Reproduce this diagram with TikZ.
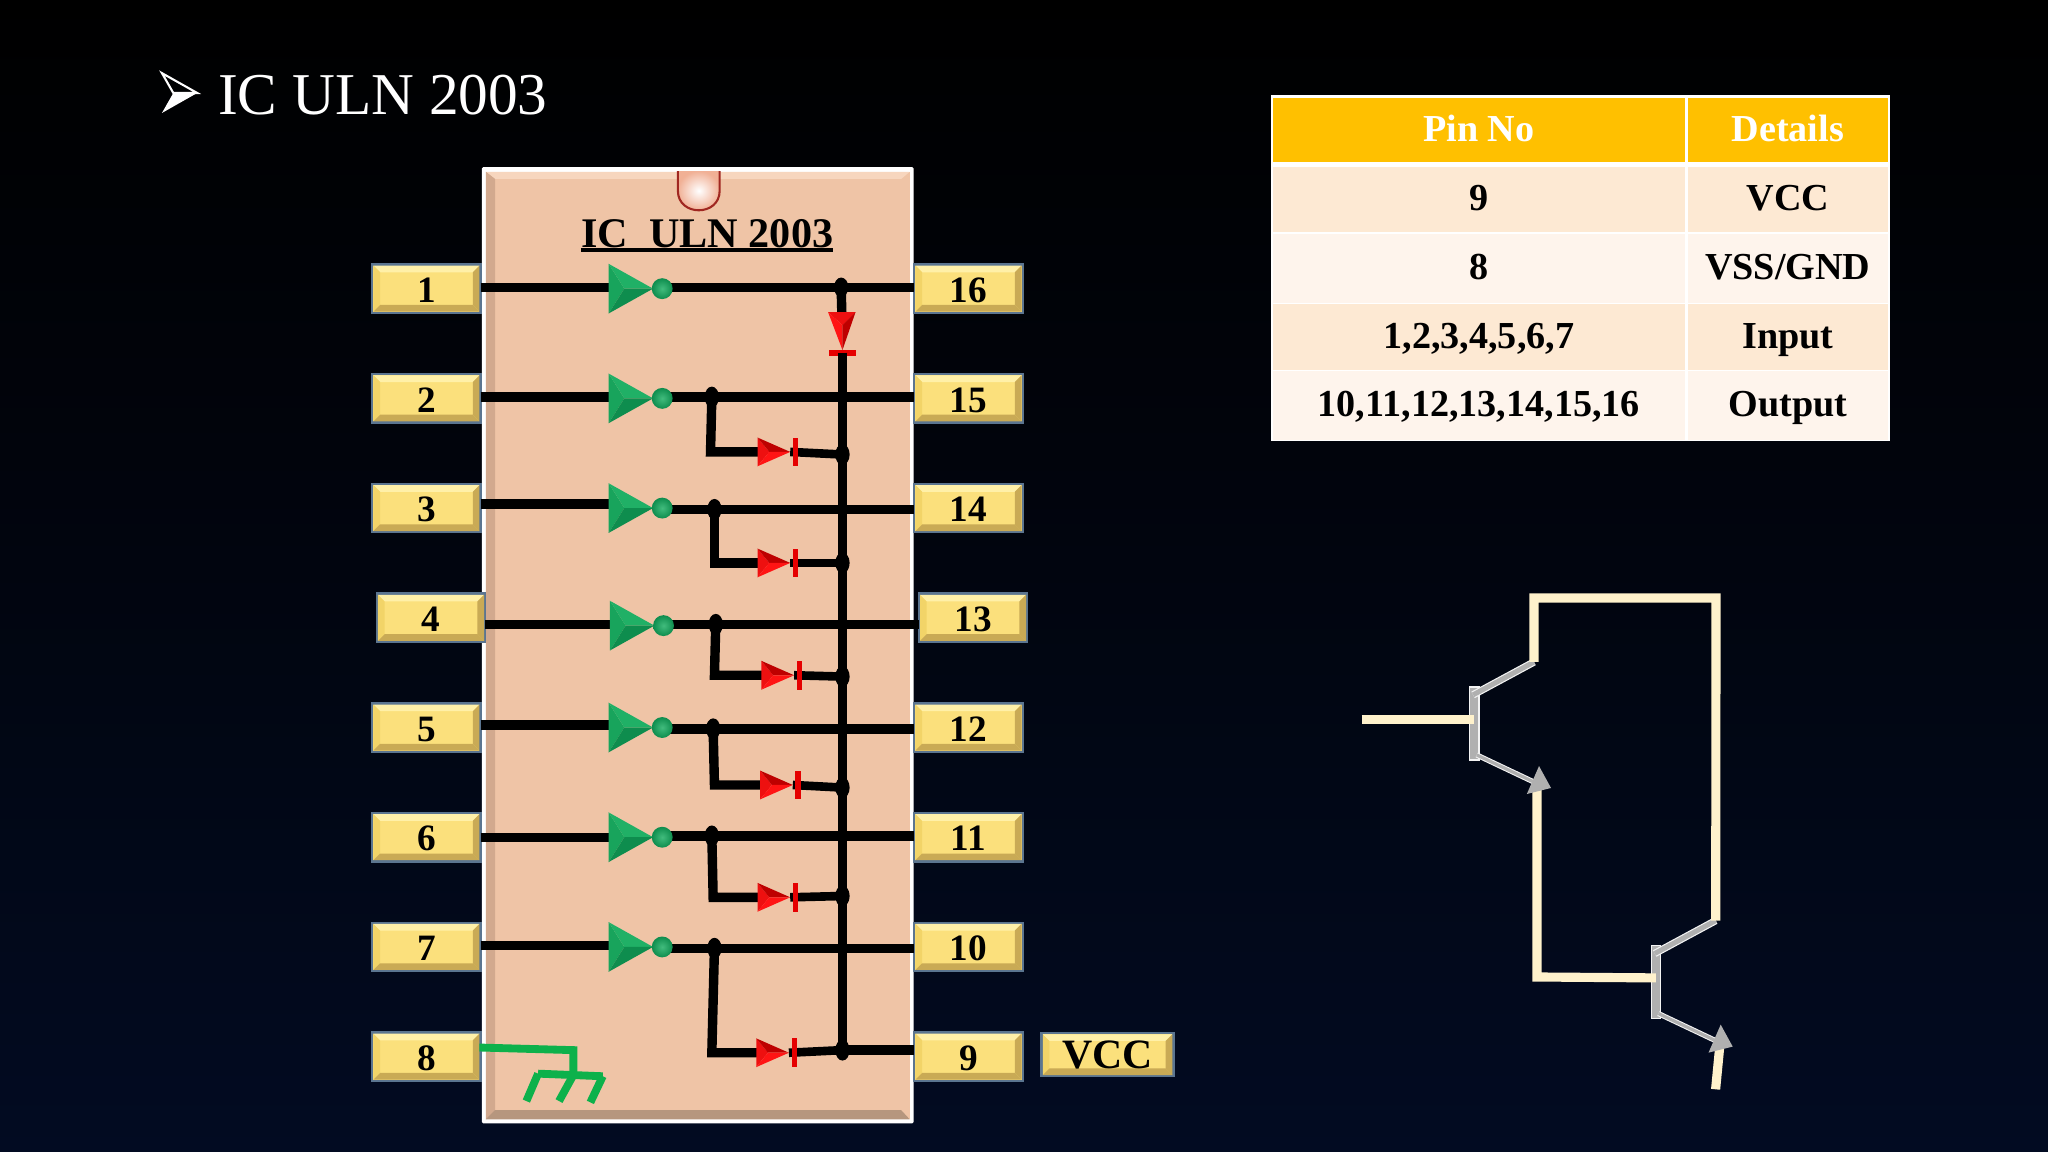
\documentclass[tikz,border=0pt]{standalone}
\usepackage{fontspec}
\setmainfont{Liberation Serif}
\usetikzlibrary{calc}
\definecolor{bgbot}{HTML}{020B22}
\definecolor{chip}{HTML}{EFC4A6}
\definecolor{chiplight}{HTML}{F7D6BE}
\definecolor{chipleft}{HTML}{D2A98E}
\definecolor{chipbot}{HTML}{B6967E}
\definecolor{pinface}{HTML}{FBE07C}
\definecolor{pintop}{HTML}{FFF0A8}
\definecolor{pinleft}{HTML}{F2D468}
\definecolor{pinbot}{HTML}{C9AA55}
\definecolor{pinedge}{HTML}{5B7590}
\definecolor{tabhead}{HTML}{FFC000}
\definecolor{rowa}{HTML}{FDE9D3}
\definecolor{rowb}{HTML}{FEF4EC}
\definecolor{cream}{HTML}{FFF2CC}
\definecolor{tgrey}{HTML}{B0B0B0}
\definecolor{gatetop}{HTML}{20B066}
\definecolor{gatemid}{HTML}{18A45C}
\definecolor{gatebot}{HTML}{0E8D4E}
\definecolor{gnd}{HTML}{0DB14B}
\definecolor{redhi}{HTML}{FF1414}
\definecolor{redmid}{HTML}{EE1010}
\definecolor{redlo}{HTML}{BE0000}
\newcommand{\pinbox}[6]{%
  \pgfmathsetmacro{\xa}{#2-#4/2}\pgfmathsetmacro{\xb}{#2+#4/2}
  \pgfmathsetmacro{\ya}{#3-#5/2}\pgfmathsetmacro{\yb}{#3+#5/2}
  \pgfmathsetmacro{\xc}{\xa+6}\pgfmathsetmacro{\xd}{\xb-6}
  \pgfmathsetmacro{\yc}{\ya+6}\pgfmathsetmacro{\yd}{\yb-6}
  \fill[pinface,draw=pinedge,line width=1.8mm] (\xa,\ya) rectangle (\xb,\yb);
  \fill[pintop] (\xa+.9,\ya+.9) -- (\xb-.9,\ya+.9) -- (\xd,\yc) -- (\xc,\yc) -- cycle;
  \fill[pinleft] (\xa+.9,\ya+.9) -- (\xc,\yc) -- (\xc,\yd) -- (\xa+.9,\yb-.9) -- cycle;
  \fill[pinbot] (\xa+.9,\yb-.9) -- (\xc,\yd) -- (\xd,\yd) -- (\xb-.9,\yb-.9) -- cycle;
  \fill[pinbot] (\xb-.9,\ya+.9) -- (\xd,\yc) -- (\xd,\yd) -- (\xb-.9,\yb-.9) -- cycle;
  \node[pinlabel,minimum width=#4 mm,minimum height=#5 mm] (#1) at (#2,#3) {#6};
}
\newcommand{\tabcell}[8]{%
  \fill[#6] (#2,#3) rectangle (#4,#5);
  \node[tabtext,text=#7] (#1) at ($(#2,#3)!.5!(#4,#5)$) {#8};
}
\newcommand{\qbody}[3]{%
  \begin{scope}[shift={(#2,#3)}]
    \coordinate (#1c) at (1174.5,506.8);
    \coordinate (#1b) at (1128.7,550.7);
    \coordinate (#1e) at (1176,599.5);
    \coordinate (#1u) at (1127.8,532);
    \coordinate (#1l) at (1130.6,578);
    \draw[tbar] (1125.1,526) rectangle (1132.4,581.9);
    \draw[white!85!tgrey,line width=5.6mm] (#1u) -- (#1c);
    \draw[tcol] (#1u) -- (#1c);
    \draw[white!85!tgrey,line width=4mm] (#1l) -- (#1e);
    \draw[tcol,line width=2.4mm] (#1l) -- (#1e);
  \end{scope}
}
\newcommand{\qtip}[3]{%
  \begin{scope}[shift={(#2,#3)}]
    \fill[tgrey] (1178.3,586.5) -- (1187.5,603.3) -- (1169,607.9) -- cycle;
  \end{scope}
}
\tikzset{
  x=1mm,y=-1mm,
  wire/.style={line width=7.2mm,black},
  thinwire/.style={line width=6.6mm,black},
  dot/.style={fill=black},
  pinlabel/.style={inner sep=0pt,text height=21mm,text depth=0pt,font=\fontsize{28.5mm}{30mm}\selectfont\bfseries,text=black},
  tabtext/.style={inner sep=0pt,text height=17mm,text depth=0pt,font=\fontsize{29.2mm}{32mm}\selectfont\bfseries},
  headtext/.style={},
  creamw/.style={cream,line width=7mm},
  tbar/.style={fill=tgrey,draw=white!85!tgrey,line width=1mm},
  tcol/.style={draw=tgrey,line width=3.8mm},
  gndw/.style={gnd,line width=6mm,line cap=butt},
}
\begin{document}
\begin{tikzpicture}
\useasboundingbox (0,0) rectangle (1568,882);
\shade[top color=black,bottom color=bgbot,middle color=black!55!bgbot] (0,0) rectangle (1568,882);

% title
\coordinate (btip) at (151,71.2);
\coordinate (btop) at (124,56);
\coordinate (bnotch) at (132.7,71.2);
\coordinate (bbot) at (124,86.5);
\draw[white,line width=1.6mm,line join=miter] (btop) -- (btip) -- (bnotch) -- cycle;
\fill[white] (bnotch) -- (btip) -- (bbot) -- cycle;
\node[text=white,font=\fontsize{45.4mm}{50mm}\selectfont,inner sep=0pt,anchor=west,text height=30mm,text depth=0pt] (title) at (167,72.5) {IC ULN 2003};

% chip body
\fill[white,rounded corners=1mm] (369,128) rectangle (699.5,860);
\fill[chip] (372,131.5) rectangle (696.5,857);
\fill[chiplight] (372,131.5) -- (696.5,131.5) -- (690,137) -- (379,137) -- cycle;
\fill[chipleft] (372,131.5) -- (379,137) -- (379,851) -- (372,857) -- cycle;
\fill[chipbot] (372,857) -- (379,850) -- (690,850) -- (696.5,857) -- cycle;
\shade[inner color=white,outer color=chip!90!red] (519,131) -- (519,146) .. controls (519,156) and (527,161) .. (535,161) .. controls (543,161) and (551,156) .. (551,146) -- (551,131) -- cycle;
\draw[draw=red!55!black!80!chip,line width=1.6mm] (519,131) -- (519,146) .. controls (519,156) and (527,161) .. (535,161) .. controls (543,161) and (551,156) .. (551,146) -- (551,131);
\node[font=\fontsize{32.3mm}{36mm}\selectfont\bfseries,inner sep=0pt,text=black,text height=21.5mm,text depth=0pt] (chipname) at (541.5,178.5) {IC\ \ ULN 2003};
\draw[black,line width=2.8mm] (chipname.west |- 0,191.5) -- (chipname.east |- 0,191.5);

% pins
\foreach \n/\y in {1/221,2/305,3/389,5/557,6/641,7/725,8/809}
  {\pinbox{p\n}{326.5}{\y}{83}{37}{\n}}
\pinbox{p4}{330}{473}{83}{37}{4}
\foreach \n/\y in {16/221,15/305,14/389,12/557,11/641,10/725,9/809}
  {\pinbox{p\n}{741.5}{\y}{83}{37}{\n}}
\pinbox{p13}{745}{473}{83}{37}{13}
\pinbox{vcc}{848}{807.5}{101}{33}{\fontsize{32mm}{34mm}\selectfont VCC}

% row geometry: input row / output pin / left y / right y / gate x / gate y / junction x / low x / diode x / diode y / join y
\foreach \n/\o/\yl/\yr/\gx/\gy/\jx/\lx/\dx/\dy/\jy in {
  2/15/304/304/466/305/545/544/580/346/348,
  3/14/386/390/466/389/547/547/580/431/431,
  4/13/478/478/467/479/548/547/583/517/518,
  5/12/555/558/466/557/546/547/582/601/603,
  6/11/641/640/466/641/545/546/580/687/686,
  7/10/724/726/466/725/547/545/579/806/804}{
  \coordinate (inv\n) at (\gx,\gy);
  \coordinate (j\n) at (\jx,\yr);
  \coordinate (k\n) at (\lx,\dy);
  \coordinate (d\n) at (\dx,\dy);
  \coordinate (e\n) at (645,\jy);
  \draw[wire] (p\n.east |- 0,\yl) -- (\gx,\yl);
  \draw[wire] (\gx+40,\yr) -- (p\o.west |- 0,\yr);
  \draw[wire,line cap=rect] (j\n) -- (k\n) -- (d\n);
  \draw[thinwire] (\dx+25,\dy) -- (e\n);
  \fill[dot] (j\n) ellipse [x radius=5.5,y radius=8];
}
% row 7 diode output continues to pin 9
\draw[wire] (e7) -- (p9.west |- e7);

% row 1
\coordinate (inv1) at (466,221);
\coordinate (j1) at (644,220);
\coordinate (d1) at (644.5,239);
\coordinate (bustop) at (645,270);
\coordinate (busbot) at (645,806);
\draw[wire] (p1.east |- 0,220) -- (inv1 |- 0,220);
\draw[wire] (506,220) -- (p16.west |- 0,220);
\draw[wire] (j1) -- (d1);
\fill[dot] (j1) ellipse [x radius=5.5,y radius=7.5];
\draw[wire] (bustop) -- (busbot);
\foreach \n in {2,...,7}{\fill[dot] (e\n) ellipse [x radius=5.5,y radius=8];}

% inverters
\foreach \n in {1,...,7}{
  \coordinate (c\n) at ($(inv\n)+(12,0)$);
  \coordinate (ta\n) at ($(inv\n)+(0,-19)$);
  \coordinate (tb\n) at ($(inv\n)+(34,0)$);
  \coordinate (tc\n) at ($(inv\n)+(0,19)$);
  \fill[gatemid] (ta\n) -- (c\n) -- (tc\n) -- cycle;
  \fill[gatetop] (ta\n) -- (tb\n) -- (c\n) -- cycle;
  \fill[gatebot] (tc\n) -- (tb\n) -- (c\n) -- cycle;
  \shade[inner color=gatetop!85!white,outer color=gatebot] ($(inv\n)+(41,0)$) circle [radius=8];
}
% diodes
\foreach \n in {2,...,7}{
  \coordinate (c\n) at ($(d\n)+(9,0)$);
  \coordinate (ta\n) at ($(d\n)+(0,-11)$);
  \coordinate (tb\n) at ($(d\n)+(25,0)$);
  \coordinate (tc\n) at ($(d\n)+(0,11)$);
  \fill[redmid] (ta\n) -- (c\n) -- (tc\n) -- cycle;
  \fill[redlo] (ta\n) -- (tb\n) -- (c\n) -- cycle;
  \fill[redhi] (tc\n) -- (tb\n) -- (c\n) -- cycle;
  \fill[red!90!black] ($(d\n)+(27,-11)$) rectangle ($(d\n)+(31,11)$);
}
\coordinate (dc) at (645,249);
\fill[redmid] (634,239) -- (655,239) -- (dc) -- cycle;
\fill[redhi] (634,239) -- (645,268) -- (dc) -- cycle;
\fill[redlo] (655,239) -- (645,268) -- (dc) -- cycle;
\fill[red!90!black] (634.5,268) rectangle (655.5,272.5);
\draw[wire] (bustop) -- ++(0,8);

% ground
\coordinate (g0) at (367,802);
\coordinate (g1) at (439,804);
\coordinate (g2) at (439,823);
\coordinate (g3) at (412,822);
\coordinate (g4) at (461.5,824);
\draw[gndw] (g0) -- (g1) -- (g2);
\draw[gndw,line join=miter] (g3) -- (g4);
\draw[gndw] (g3) -- (403,843);
\draw[gndw] (g2) -- (428,843);
\draw[gndw] (g4) -- (452,844);

% table
\fill[white] (973,73) rectangle (1447,338);
\tabcell{h1}{974.5}{75}{1290}{124}{tabhead}{white}{Pin No}
\tabcell{h2}{1292}{75}{1445.5}{124}{tabhead}{white}{Details}
\tabcell{a1}{974.5}{128}{1290}{178}{rowa}{black}{9}
\tabcell{a2}{1292}{128}{1445.5}{178}{rowa}{black}{VCC}
\tabcell{b1}{974.5}{179}{1290}{232}{rowb}{black}{8}
\tabcell{b2}{1292}{179}{1445.5}{232}{rowb}{black}{VSS/GND}
\tabcell{c1}{974.5}{233}{1290}{283}{rowa}{black}{1,2,3,4,5,6,7}
\tabcell{c2}{1292}{233}{1445.5}{283}{rowa}{black}{Input}
\tabcell{d1c}{974.5}{284}{1290}{336.5}{rowb}{black}{10,11,12,13,14,15,16}
\tabcell{d2c}{1292}{284}{1445.5}{336.5}{rowb}{black}{Output}

% transistors
\qbody{qa}{0}{0}
\qbody{qb}{139.1}{198}
\coordinate (inA) at (1042.5,550.7);
\coordinate (tl) at (1174.5,457.8);
\coordinate (tr) at (1313.8,457.8);
\coordinate (ml) at (1176.8,748);
\coordinate (arrA) at (1176.8,604.8);
\coordinate (tailB) at (1313.5,834);
\coordinate (arrB) at (1316.5,803);
\draw[creamw] (inA) -- (qab);
\draw[creamw,line join=miter] (qac) -- (tl) -- (tr) -- (qbc);
\draw[creamw,line join=miter] (arrA) -- (ml) -- (qbb);
\draw[creamw] (tailB) -- (arrB);
\qtip{qa}{0}{0}
\qtip{qb}{139.1}{198}
\end{tikzpicture}
\end{document}
